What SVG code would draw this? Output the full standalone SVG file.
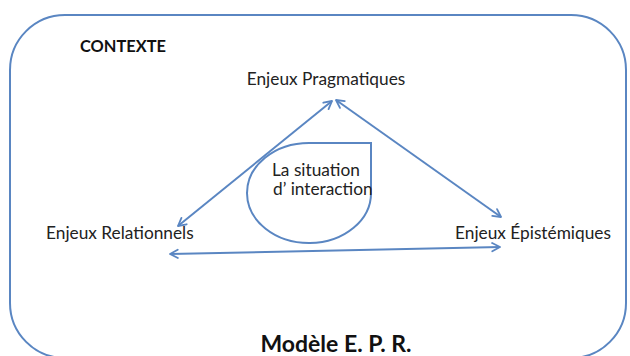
<svg xmlns="http://www.w3.org/2000/svg" width="630" height="356" viewBox="0 0 630 356">
<defs>
<style>
.t{font-family:Lato,"Open Sans","Liberation Sans",sans-serif;font-size:17.3px;fill:#222}
.b{font-family:Lato,"Open Sans","Liberation Sans",sans-serif;font-weight:bold;fill:#111}
.ln{stroke:#5a86c2;stroke-width:2;fill:none}
</style>
<marker id="ah" viewBox="0 0 12 12" refX="10.5" refY="6" markerWidth="11" markerHeight="11" orient="auto-start-reverse" markerUnits="userSpaceOnUse">
<path d="M2,1.5 L10.5,6 L2,10.5" fill="none" stroke="#5a86c2" stroke-width="2" stroke-linecap="round" stroke-linejoin="round"/>
</marker>
</defs>
<rect id="contexte-frame" x="10" y="15" width="616" height="343" rx="55" ry="55" fill="none" stroke="#5a86c2" stroke-width="2"/>
<text class="b" x="80" y="52" font-size="16.4">CONTEXTE</text>
<g id="connectors">
<line class="ln" x1="332" y1="101" x2="178" y2="226" marker-start="url(#ah)" marker-end="url(#ah)"/>
<line class="ln" x1="336" y1="100" x2="501" y2="217" marker-start="url(#ah)" marker-end="url(#ah)"/>
<line class="ln" x1="170" y1="254" x2="500" y2="247" marker-start="url(#ah)" marker-end="url(#ah)"/>
</g>
<g id="pragmatiques"><text class="t" x="326" y="85" text-anchor="middle">Enjeux Pragmatiques</text></g>
<g id="relationnels"><text class="t" x="46" y="239">Enjeux Relationnels</text></g>
<g id="epistemiques"><text class="t" x="455" y="239">Enjeux Épistémiques</text></g>
<g id="situation">
<path class="ln" d="M309,143 L371,143 L371,192 A62,50 0 1 1 309,143 Z"/>
<text class="t" x="272" y="176" font-size="16.8">La situation</text>
<text class="t" x="273" y="195" font-size="16.8">d’ interaction</text>
</g>
<text class="b" x="336" y="352" font-size="23" text-anchor="middle">Modèle E. P. R.</text>
</svg>
